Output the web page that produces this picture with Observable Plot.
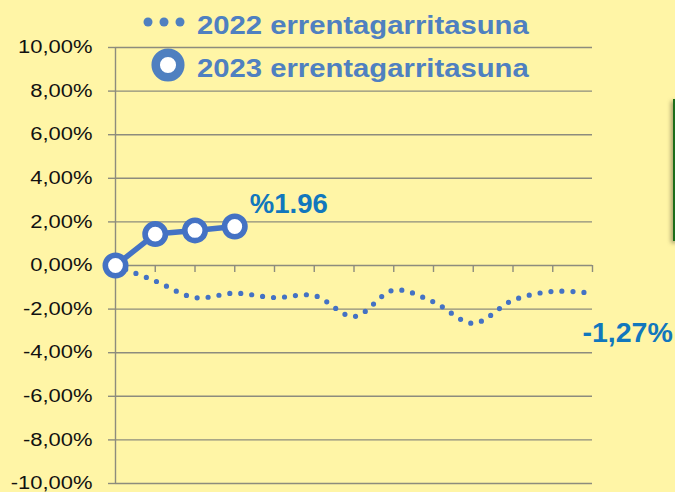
<!DOCTYPE html>
<html><head><meta charset="utf-8">
<script src="https://cdn.jsdelivr.net/npm/d3@7"></script>
<script src="https://cdn.jsdelivr.net/npm/@observablehq/plot@0.6"></script>
<style>
body{margin:0;background:#fff5a6;overflow:hidden}
#wrap{position:relative;width:675px;height:492px;overflow:hidden;font-family:"Liberation Sans",Arial,sans-serif}
#chart{position:absolute;left:0;top:0}
.leg{position:absolute;left:197px;font-weight:bold;font-size:25px;line-height:29px;color:#4f80c0;white-space:nowrap;transform-origin:left center;transform:scaleX(1.17)}
.sym{position:absolute;left:0;top:0}
#greenbox{position:absolute;left:673px;top:99px;width:6px;height:142px;background:#1c6e1a;box-shadow:-2px 2px 4px rgba(0,0,0,0.35)}
</style></head><body>
<div id="wrap">
  <div id="greenbox"></div>
  <div id="chart"></div>
  <svg class="sym" width="200" height="90">
    <circle cx="148" cy="22" r="4.5" fill="#4f80c0"/>
    <circle cx="164" cy="22" r="4.5" fill="#4f80c0"/>
    <circle cx="180" cy="22" r="4.5" fill="#4f80c0"/>
    <circle cx="168" cy="65" r="12.3" fill="#fff" stroke="#4f80c0" stroke-width="8.5"/>
  </svg>
  <div class="leg" id="leg1" style="top:11px"></div>
  <div class="leg" id="leg2" style="top:54px"></div>
</div>
<script>
// Data
const series2022Name = "2022 errentagarritasuna";
const series2023Name = "2023 errentagarritasuna";
const months2022 = [0,1,2,3,4,5,6,7,8,9,10,11,12];
const values2022 = [0,-0.71,-1.47,-1.27,-1.47,-1.38,-2.34,-1.13,-1.67,-2.65,-1.59,-1.19,-1.27];
const months2023 = [0,1,2,3];
const values2023 = [0,1.44,1.61,1.79];
const label2023 = "%1.96";
const label2022 = "-1,27%";
const yTicks = [-10,-8,-6,-4,-2,0,2,4,6,8,10];
const xTicks = [1,2,3,4,5,6,7,8,9,10,11,12];

document.getElementById("leg1").textContent = series2022Name;
document.getElementById("leg2").textContent = series2023Name;

const d2022 = months2022.map((m,i)=>({m, v: values2022[i]}));
const d2023 = months2023.map((m,i)=>({m, v: values2023[i]}));
const last2023 = [{...d2023[d2023.length-1], label: label2023}];
const last2022 = [{...d2022[d2022.length-1], label: label2022}];

const grid = "#8d8c7d";
const lineBlue = "#4472c4";
const labelBlue = "#1177bd";
const fmt = v => v.toFixed(2).replace(".", ",") + "%";

const chart = Plot.plot({
  width: 675, height: 492,
  marginLeft: 115, marginRight: 83, marginTop: 47, marginBottom: 9,
  style: {background: "transparent", fontFamily: "Liberation Sans, Arial, sans-serif", overflow: "visible", color: "#111"},
  x: {domain: [0, 12], axis: null},
  y: {domain: [-10, 10]},
  marks: [
    Plot.ruleY(yTicks, {stroke: grid, strokeWidth: 1.4}),
    Plot.axisY({ticks: yTicks, tickSize: 7, tickPadding: 16, stroke: grid, strokeWidth: 1.4, tickFormat: fmt, fontSize: 18, label: null}),
    Plot.ruleX([0], {stroke: grid, strokeWidth: 1.4}),
    Plot.ruleX(xTicks, {x: d => d, y1: 0, y2: 0, insetBottom: -7, stroke: grid, strokeWidth: 1.4}),
    Plot.line(d2022, {x: "m", y: "v", curve: "catmull-rom", stroke: lineBlue, strokeWidth: 5.2, strokeDasharray: "0 11", strokeLinecap: "round"}),
    Plot.line(d2023, {x: "m", y: "v", stroke: lineBlue, strokeWidth: 5.5}),
    Plot.dot(d2023, {x: "m", y: "v", r: 10.2, fill: "white", stroke: lineBlue, strokeWidth: 5.6}),
    Plot.text(last2023, {x: "m", y: "v", text: "label", textAnchor: "start", dx: 15, dy: -22, fontSize: 27.5, fontWeight: "bold", fill: labelBlue}),
    Plot.text(last2022, {x: "m", y: "v", text: "label", textAnchor: "start", dx: -10, dy: 40, fontSize: 28.5, fontWeight: "bold", fill: labelBlue})
  ]
});
document.getElementById("chart").append(chart);
d3.select(chart).selectAll('g[aria-label="y-axis tick label"] text').each(function(){
  const L = this.getComputedTextLength();
  this.setAttribute("textLength", L * 1.22);
  this.setAttribute("lengthAdjust", "spacingAndGlyphs");
});
</script>
</body></html>
